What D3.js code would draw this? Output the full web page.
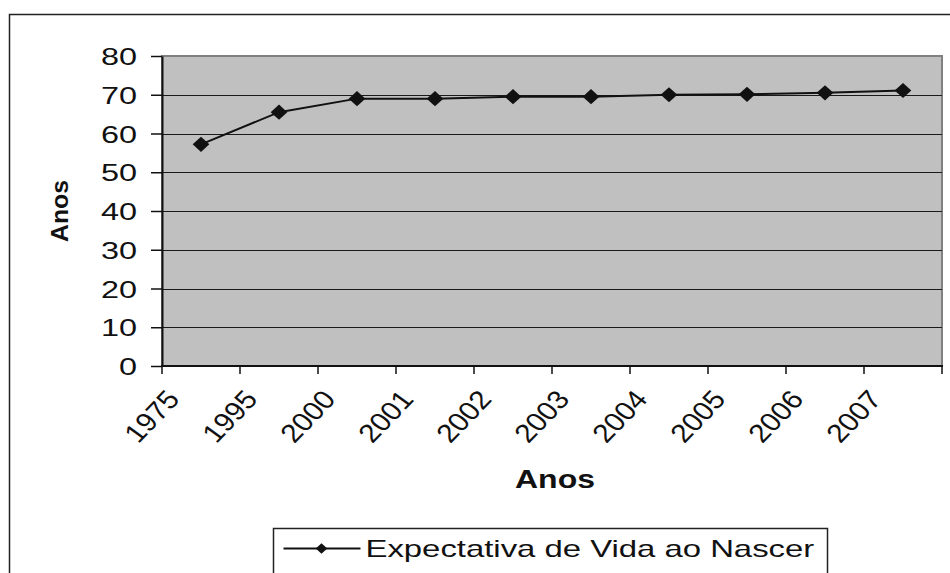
<!DOCTYPE html>
<html>
<head>
<meta charset="utf-8">
<script src="https://cdn.jsdelivr.net/npm/d3@7"></script>
<style>
  body { margin: 0; background: #fff; }
  svg { display: block; font-family: "Liberation Sans", Arial, sans-serif; }
</style>
</head>
<body>
<svg></svg>
<script>
let width = 950, height = 573;

// Data
const years = ["1975", "1995", "2000", "2001", "2002", "2003", "2004", "2005", "2006", "2007"];
const lifeExpectancy = [57.2, 65.5, 69.0, 69.0, 69.5, 69.5, 70.0, 70.1, 70.5, 71.1];
const yTicks = [0, 10, 20, 30, 40, 50, 60, 70, 80];
const seriesName = "Expectativa de Vida ao Nascer";

// the reference text looks stretched sideways
const stretch = 1.35;

let svg = d3.select("svg")
    .attr("width", width)
    .attr("height", height);

// outer chart border (runs off the bottom/right of the picture)
svg.append("rect")
    .attr("x", 9.5).attr("y", 14.5)
    .attr("width", 960).attr("height", 600)
    .attr("fill", "white")
    .attr("stroke", "#222")
    .attr("stroke-width", 1.5);

const plot = { left: 162, right: 942, top: 56, bottom: 366 };

let x = d3.scaleBand()
    .domain(years)
    .range([plot.left, plot.right])
    .padding(0);

let y = d3.scaleLinear()
    .domain([0, 80])
    .range([plot.bottom, plot.top]);

// plot area
svg.append("rect")
    .attr("x", plot.left).attr("y", plot.top)
    .attr("width", plot.right - plot.left)
    .attr("height", plot.bottom - plot.top)
    .attr("fill", "#c0c0c0")
    .attr("stroke", "#808080")
    .attr("stroke-width", 2);

// gridlines
svg.append("g")
    .selectAll("line")
    .data(yTicks.filter(d => d > 0 && d < 80))
    .enter()
    .append("line")
    .attr("x1", plot.left).attr("x2", plot.right)
    .attr("y1", d => Math.round(y(d)) + 0.5)
    .attr("y2", d => Math.round(y(d)) + 0.5)
    .attr("stroke", "#1a1a1a")
    .attr("stroke-width", 1);

// y axis
const yAxis = svg.append("g")
    .attr("transform", `translate(${plot.left}, 0)`)
    .call(d3.axisLeft(y).tickValues(yTicks).tickSize(11).tickPadding(14).tickSizeOuter(0));
yAxis.select(".domain").attr("stroke", "#111").attr("stroke-width", 2);
yAxis.selectAll(".tick line").attr("stroke", "#111").attr("stroke-width", 1.5);
yAxis.selectAll(".tick text")
    .attr("x", 0)
    .attr("transform", `translate(-25, 0) scale(${stretch}, 1)`)
    .attr("font-size", "24px")
    .attr("font-family", "Liberation Sans, Arial, sans-serif")
    .attr("fill", "#111")
    .attr("dy", "0.36em");

// x axis: line + ticks at category boundaries
svg.append("line")
    .attr("x1", plot.left - 1).attr("x2", plot.right + 1)
    .attr("y1", plot.bottom).attr("y2", plot.bottom)
    .attr("stroke", "#111").attr("stroke-width", 2);

svg.append("g")
    .selectAll("line")
    .data(years.concat(["end"]))
    .enter()
    .append("line")
    .attr("x1", d => d === "end" ? plot.right : x(d))
    .attr("x2", d => d === "end" ? plot.right : x(d))
    .attr("y1", plot.bottom)
    .attr("y2", plot.bottom + 8)
    .attr("stroke", "#111").attr("stroke-width", 1.5);

// x tick labels, rotated
svg.append("g")
    .selectAll("text")
    .data(years)
    .enter()
    .append("text")
    .attr("transform", d => `translate(${x(d) + x.bandwidth() / 2 - 20}, ${plot.bottom + 34}) scale(1.15, 1) rotate(-50)`)
    .attr("text-anchor", "end")
    .attr("font-size", "26px")
    .attr("fill", "#111")
    .text(d => d);

// axis titles
svg.append("text")
    .attr("transform", `translate(${(plot.left + plot.right) / 2 + 3}, 488) scale(1.28, 1)`)
    .attr("text-anchor", "middle")
    .attr("font-size", "25px")
    .attr("font-weight", "bold")
    .attr("fill", "#111")
    .text("Anos");

svg.append("text")
    .attr("transform", `translate(68, ${(plot.top + plot.bottom) / 2}) rotate(-90) scale(1.08, 1)`)
    .attr("text-anchor", "middle")
    .attr("font-size", "23px")
    .attr("font-weight", "bold")
    .attr("fill", "#111")
    .text("Anos");

// the series
const line = d3.line()
    .x((d, i) => x(years[i]) + x.bandwidth() / 2)
    .y(d => y(d));

svg.append("path")
    .datum(lifeExpectancy)
    .attr("d", line)
    .attr("fill", "none")
    .attr("stroke", "#111")
    .attr("stroke-width", 2);

const diamond = d3.symbol().type(d3.symbolSquare).size(115);

svg.append("g")
    .selectAll("path")
    .data(lifeExpectancy)
    .enter()
    .append("path")
    .attr("d", diamond)
    .attr("transform", (d, i) => `translate(${x(years[i]) + x.bandwidth() / 2}, ${y(d)}) scale(1.1, 1) rotate(45)`)
    .attr("fill", "#111");

/* Legend */
const legend = svg.append("g")
    .attr("transform", "translate(273.5, 528.5)");

legend.append("rect")
    .attr("width", 554)
    .attr("height", 80)
    .attr("fill", "white")
    .attr("stroke", "#222")
    .attr("stroke-width", 1.5);

legend.append("line")
    .attr("x1", 10).attr("x2", 87)
    .attr("y1", 20).attr("y2", 20)
    .attr("stroke", "#111").attr("stroke-width", 2);

legend.append("path")
    .attr("d", d3.symbol().type(d3.symbolSquare).size(55))
    .attr("transform", "translate(48, 20) scale(1.1, 1) rotate(45)")
    .attr("fill", "#111");

legend.append("text")
    .attr("transform", "translate(92, 28) scale(1.37, 1)")
    .attr("font-size", "24px")
    .attr("fill", "#111")
    .text(seriesName);
</script>
</body>
</html>
